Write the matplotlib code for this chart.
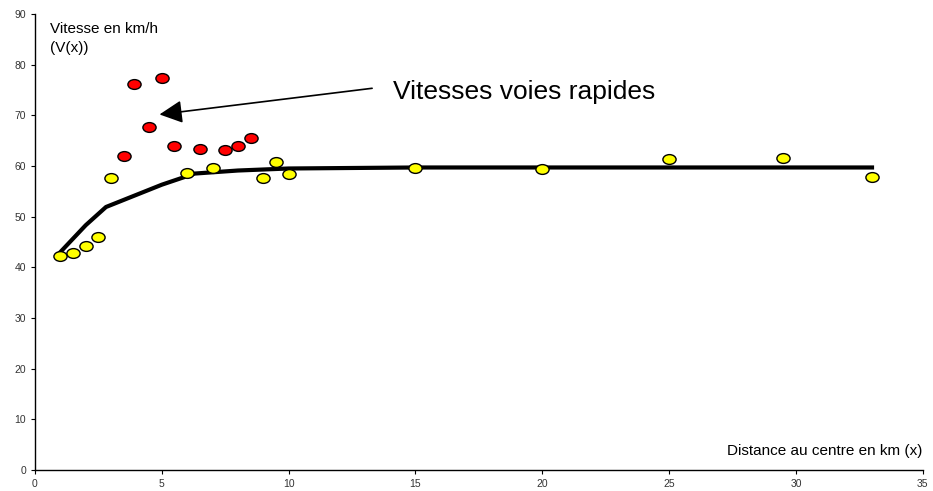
import numpy as np
import matplotlib.pyplot as plt
from matplotlib.path import Path
from matplotlib.transforms import Affine2D

plt.rcParams['font.family'] = ['Liberation Sans', 'DejaVu Sans']

# yellow points (other roads)
x_yellow = [1, 1.5, 2, 2.5, 3, 6, 7, 9, 9.5, 10, 15, 20, 25, 29.5, 33]
v_yellow = [42.2, 42.8, 44.1, 45.9, 57.6, 58.7, 59.6, 57.6, 60.8, 58.5, 59.5, 59.4, 61.3, 61.6, 57.9]

# red points (fast roads)
x_red = [3.5, 3.9, 4.5, 5, 5.5, 6.5, 7.5, 8, 8.5]
v_red = [62.0, 76.1, 67.6, 77.4, 63.9, 63.3, 63.2, 63.9, 65.6]

# fitted curve
x_fit = [1, 2, 2.8, 4, 5, 6.3, 8, 10, 15, 20, 33]
v_fit = [43.0, 48.3, 51.9, 54.3, 56.3, 58.5, 59.1, 59.5, 59.7, 59.7, 59.7]

x_ticks = [0, 5, 10, 15, 20, 25, 30, 35]
y_ticks = [0, 10, 20, 30, 40, 50, 60, 70, 80, 90]

# elliptic marker like the spreadsheet one
ellipse = Path.unit_circle().transformed(Affine2D().scale(1.35, 1.0))

fig = plt.figure(figsize=(9.33, 4.91), dpi=100)
ax = fig.add_axes([0.0375, 0.043, 0.9515, 0.9285])

ax.plot(x_fit, v_fit, color='black', linewidth=3, solid_joinstyle='round', zorder=2)
ax.plot(x_yellow, v_yellow, linestyle='none', marker=ellipse, markersize=9.5,
        markerfacecolor='#ffff00', markeredgecolor='black', markeredgewidth=1, zorder=3)
ax.plot(x_red, v_red, linestyle='none', marker=ellipse, markersize=9.5,
        markerfacecolor='#ff0000', markeredgecolor='black', markeredgewidth=1, zorder=3)

ax.annotate('', xy=(4.8, 70.1), xytext=(13.4, 75.4),
            arrowprops=dict(arrowstyle='-|>,head_length=1.4,head_width=0.7',
                            color='black', lw=1.2))
ax.text(14.1, 74.6, 'Vitesses voies rapides', fontsize=19, ha='left', va='center')

ax.text(0.6, 85.2, 'Vitesse en km/h\n(V(x))', fontsize=11, ha='left', va='center',
        linespacing=1.5)
ax.text(35, 3.8, 'Distance au centre en km (x)', fontsize=11, ha='right', va='center')

ax.set_xlim(0, 35)
ax.set_ylim(0, 90)
ax.set_xticks(x_ticks)
ax.set_yticks(y_ticks)
ax.tick_params(labelsize=7.5, length=3, width=0.8, colors='black', labelcolor='#333333')
for s in ['top', 'right']:
    ax.spines[s].set_visible(False)
for s in ['left', 'bottom']:
    ax.spines[s].set_linewidth(1)

fig.savefig('out.png', dpi=100)
